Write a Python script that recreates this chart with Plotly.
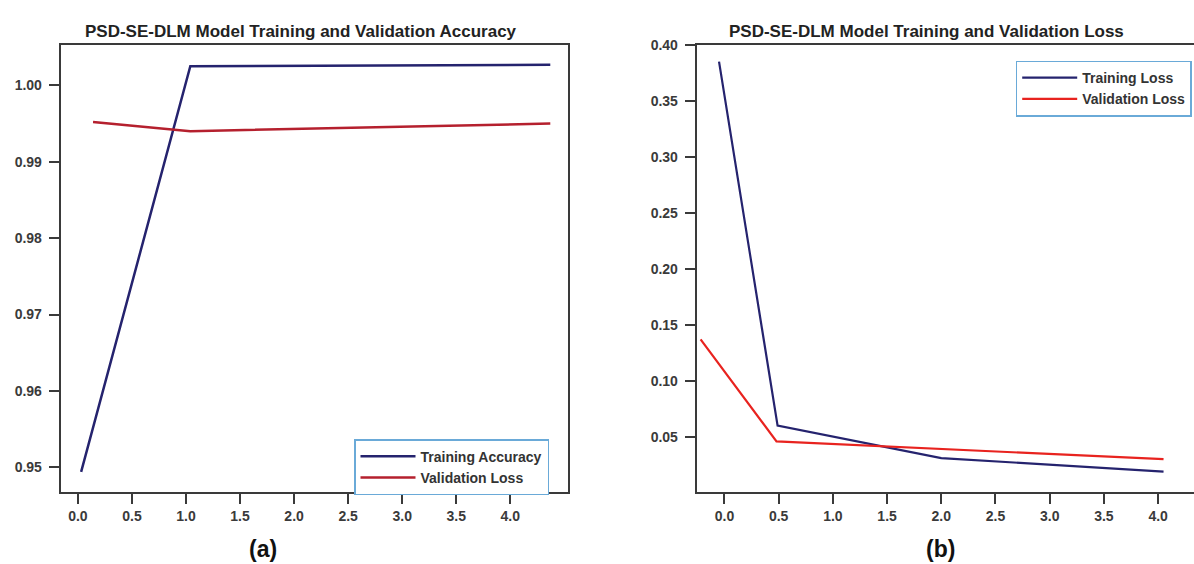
import plotly.graph_objects as go

# ---- data ----
acc_train_epochs = [0.03, 1.04, 4.37]
train_accuracy = [0.9494, 1.0025, 1.0027]
acc_val_epochs = [0.14, 1.04, 4.37]
val_accuracy = [0.9952, 0.9940, 0.9950]

loss_train_epochs = [-0.05, 0.49, 2.0, 4.05]
train_loss = [0.385, 0.060, 0.031, 0.019]
loss_val_epochs = [-0.22, 0.48, 4.05]
val_loss = [0.137, 0.046, 0.030]

x_ticks = [0.0, 0.5, 1.0, 1.5, 2.0, 2.5, 3.0, 3.5, 4.0]
acc_ticks = [0.95, 0.96, 0.97, 0.98, 0.99, 1.00]
loss_ticks = [0.05, 0.10, 0.15, 0.20, 0.25, 0.30, 0.35, 0.40]

NAVY = "#25236e"
DARKRED = "#b5202e"
RED = "#e8231f"
AX = "#3a3a3a"
FONT = "Liberation Sans"

fig = go.Figure()
fig.add_trace(go.Scatter(x=acc_train_epochs, y=train_accuracy, mode="lines",
                         name="Training Accuracy", line=dict(color=NAVY, width=2.5),
                         xaxis="x", yaxis="y", legend="legend"))
fig.add_trace(go.Scatter(x=acc_val_epochs, y=val_accuracy, mode="lines",
                         name="Validation Loss", line=dict(color=DARKRED, width=2.5),
                         xaxis="x", yaxis="y", legend="legend"))
fig.add_trace(go.Scatter(x=loss_train_epochs, y=train_loss, mode="lines",
                         name="Training Loss", line=dict(color=NAVY, width=2.2),
                         xaxis="x2", yaxis="y2", legend="legend2"))
fig.add_trace(go.Scatter(x=loss_val_epochs, y=val_loss, mode="lines",
                         name="Validation Loss", line=dict(color=RED, width=2.2),
                         xaxis="x2", yaxis="y2", legend="legend2"))

tickfont = dict(family=FONT, size=14, color=AX, weight="bold")
common = dict(showline=True, linewidth=2, linecolor=AX, ticks="outside", ticklen=10,
              tickwidth=2, tickcolor=AX, showgrid=False, zeroline=False,
              tickfont=tickfont)

ydom = [(564 - 491) / 564, (564 - 37.3) / 564]
legfont = dict(family=FONT, size=14, color="#333333", weight="bold")

fig.update_layout(
    width=1194, height=564,
    margin=dict(l=0, r=0, t=0, b=0),
    paper_bgcolor="white", plot_bgcolor="white",
    showlegend=True,
    xaxis=dict(domain=[60.7 / 1194, 567.7 / 1194], range=[-0.159, 4.531],
               tickvals=x_ticks, tickformat=".1f", mirror=True, anchor="y", **common),
    yaxis=dict(domain=ydom, range=[0.94677, 1.00531], tickvals=acc_ticks,
               tickformat=".2f", mirror=True, anchor="x", ticklabelstandoff=4, **common),
    xaxis2=dict(domain=[696.7 / 1194, 1.0], range=[-0.256, 4.331],
                tickvals=x_ticks, tickformat=".1f", mirror=True, anchor="y2", **common),
    yaxis2=dict(domain=ydom, range=[0.0007, 0.4001], tickvals=loss_ticks,
                tickformat=".2f", mirror=False, anchor="x2", ticklabelstandoff=4, **common),
    legend=dict(x=354 / 1194, y=(564 - 437.3) / 564, xanchor="left", yanchor="top",
                bgcolor="white", bordercolor="#6aaad8", borderwidth=1.5,
                font=legfont, tracegroupgap=0, itemwidth=55),
    legend2=dict(x=1015.7 / 1194, y=(564 - 53.3) / 564, xanchor="left", yanchor="top",
                 bgcolor="white", bordercolor="#6aaad8", borderwidth=1.5,
                 font=legfont, tracegroupgap=0, itemwidth=55),
    annotations=[
        dict(text="PSD-SE-DLM Model Training and Validation Accuracy", x=300.7 / 1194,
             y=(564 - 24) / 564, xref="paper", yref="paper", showarrow=False,
             xanchor="center", yanchor="middle",
             font=dict(family=FONT, size=17, color="#222222", weight="bold")),
        dict(text="PSD-SE-DLM Model Training and Validation Loss", x=926 / 1194,
             y=(564 - 24) / 564, xref="paper", yref="paper", showarrow=False,
             xanchor="center", yanchor="middle",
             font=dict(family=FONT, size=17, color="#222222", weight="bold")),
        dict(text="(a)", x=263 / 1194, y=(564 - 549) / 564, xref="paper", yref="paper",
             showarrow=False, xanchor="center", yanchor="middle",
             font=dict(family=FONT, size=23, color="#111111", weight="bold")),
        dict(text="(b)", x=940 / 1194, y=(564 - 549) / 564, xref="paper", yref="paper",
             showarrow=False, xanchor="center", yanchor="middle",
             font=dict(family=FONT, size=23, color="#111111", weight="bold")),
    ],
)

fig.write_html("out.html", config={"displayModeBar": False},
               post_script="document.body.style.margin='0';document.body.style.overflow='hidden';")
